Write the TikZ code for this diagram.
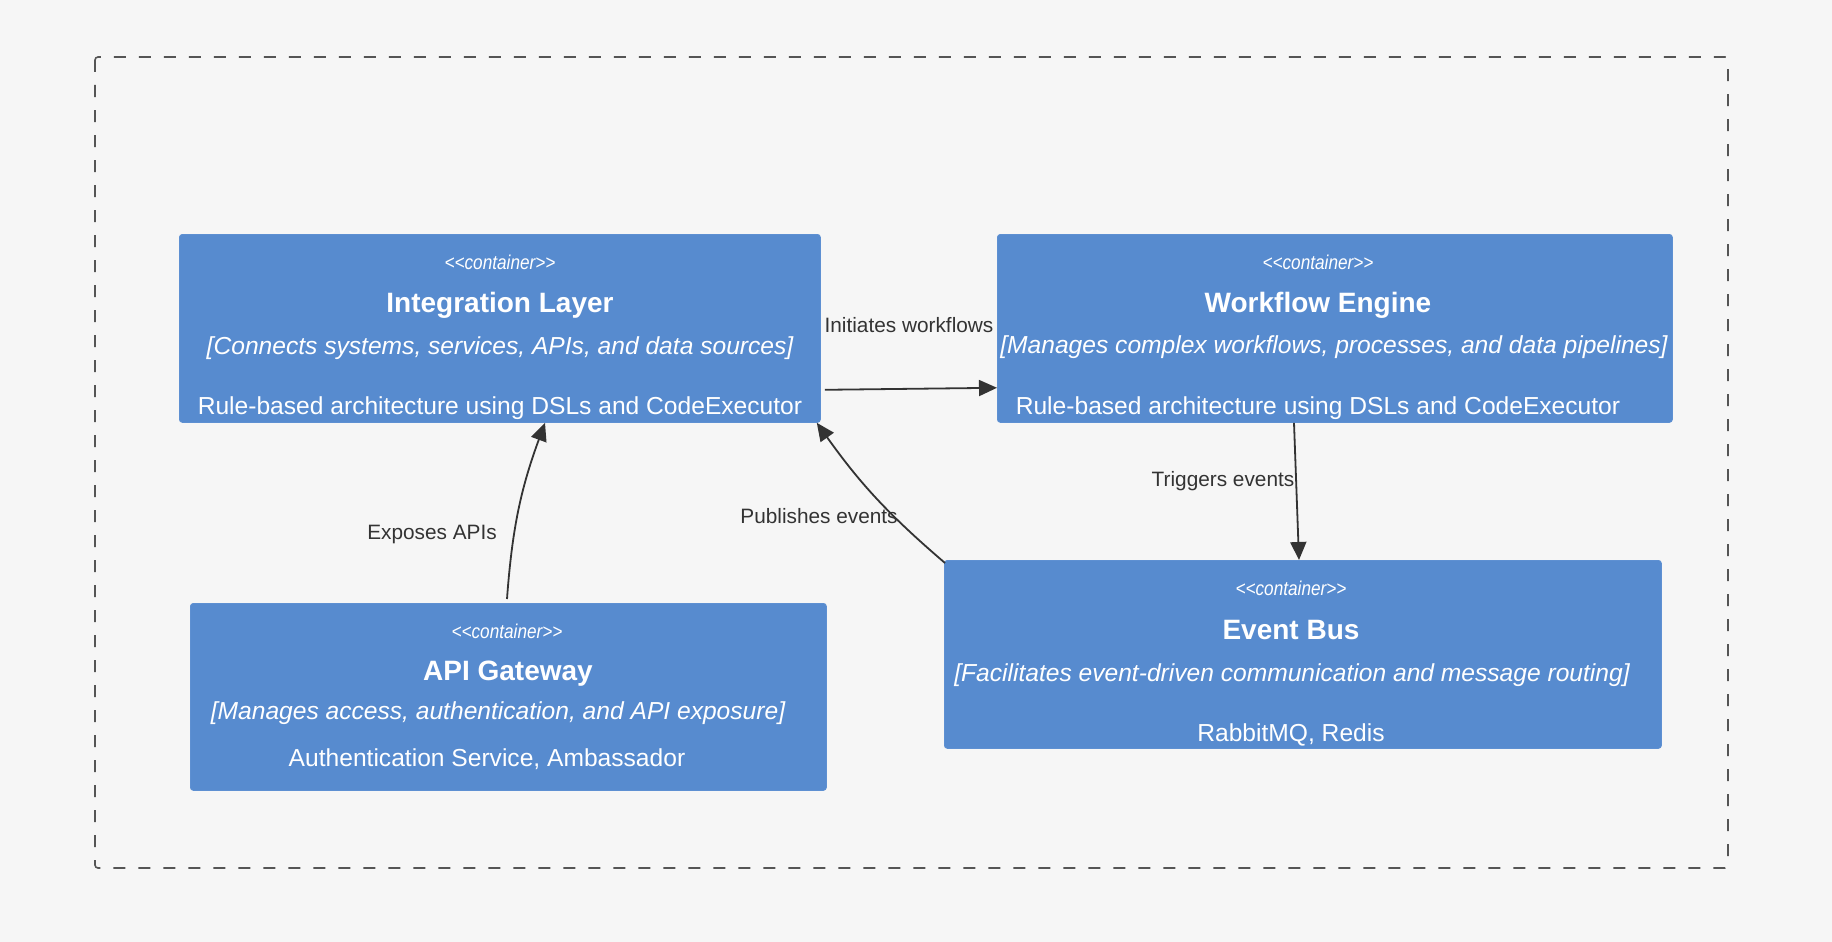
\documentclass[tikz,border=0pt]{standalone}
\usepackage{fontspec}
\setmainfont{Liberation Sans}
\usetikzlibrary{arrows.meta}
\definecolor{bg}{HTML}{F6F6F6}
\definecolor{boxblue}{HTML}{578BCF}
\definecolor{boxedge}{HTML}{5E90D2}
\definecolor{ink}{HTML}{333333}
\definecolor{framecol}{HTML}{555555}
\begin{document}
\begin{tikzpicture}[x=1pt,y=-1pt,
  container/.style={rectangle, rounded corners=3pt, fill=boxblue, draw=boxedge, line width=0.8pt, anchor=north west, inner sep=0pt},
  stereo/.style={text=white, font=\fontsize{20}{20}\selectfont\itshape, inner sep=0pt, text height=0.52em, text depth=0pt, yshift=-4pt},
  ctitle/.style={text=white, font=\fontsize{28}{28}\selectfont\bfseries, inner sep=0pt, text height=0.716em, text depth=0pt, yshift=-4.5pt},
  cdesc/.style={text=white, font=\fontsize{24.6}{24.6}\selectfont\itshape, inner sep=0pt, text height=0.716em, text depth=0pt, yshift=-4.5pt},
  ctech/.style={text=white, font=\fontsize{24.6}{24.6}\selectfont, inner sep=0pt, text height=0.716em, text depth=0pt, yshift=-4.5pt},
  rel/.style={draw=ink, line width=1.8pt, -{Triangle[length=18pt,width=16pt]}},
  rellabel/.style={text=ink, font=\fontsize{20.8}{20.8}\selectfont, inner sep=0pt, text height=0.716em, text depth=0pt, yshift=-4.5pt}
]
\useasboundingbox (0,0) rectangle (1832,942);
\fill[bg] (0,0) rectangle (1832,942);
\draw[framecol, line width=1.6pt, dash pattern=on 12pt off 13pt, rounded corners=3pt] (95,57) rectangle (1728,868);

% boxes
\node[container, minimum width=641pt, minimum height=188pt] (il) at (179,234) {};
\node[container, minimum width=675pt, minimum height=188pt] (we) at (997,234) {};
\node[container, minimum width=636pt, minimum height=187pt] (ag) at (190,603) {};
\node[container, minimum width=717pt, minimum height=188pt] (eb) at (944,560) {};

% Integration Layer texts
\node[stereo] (ils) at (500,263) {\scalebox{0.86}[1]{{<}{<}container{>}{>}}};
\node[ctitle] (ilt) at (500,304) {Integration Layer};
\node[cdesc] (ild) at (500,346) {[Connects systems, services, APIs, and data sources]};
\node[ctech] (ilx) at (500,406) {Rule-based architecture using DSLs and CodeExecutor};

% Workflow Engine texts
\node[stereo] (wes) at (1318,263) {\scalebox{0.86}[1]{{<}{<}container{>}{>}}};
\node[ctitle] (wet) at (1318,304) {Workflow Engine};
\node[cdesc] (wed) at (1334,345) {[Manages complex workflows, processes, and data pipelines]};
\node[ctech] (wex) at (1318,406) {Rule-based architecture using DSLs and CodeExecutor};

% API Gateway texts
\node[stereo] (ags) at (507,632) {\scalebox{0.86}[1]{{<}{<}container{>}{>}}};
\node[ctitle] (agt) at (508,672) {API Gateway};
\node[cdesc] (agd) at (498,711) {[Manages access, authentication, and API exposure]};
\node[ctech] (agx) at (487,758) {Authentication Service, Ambassador};

% Event Bus texts
\node[stereo] (ebs) at (1291,589) {\scalebox{0.86}[1]{{<}{<}container{>}{>}}};
\node[ctitle] (ebt) at (1291,631) {Event Bus};
\node[cdesc] (ebd) at (1292,673) {[Facilitates event-driven communication and message routing]};
\node[ctech] (ebx) at (1291,733) {RabbitMQ, Redis};

% relations
\draw[rel] ([xshift=4pt,yshift=33pt]il.south east) -- ([yshift=35pt]we.south west);
\draw[rel] ([xshift=297pt]we.south west) -- ([xshift=355pt]eb.north west);
\draw[rel] ([xshift=1pt,yshift=-3pt]eb.north west) to[bend left=7] ([xshift=-4pt]il.south east);
\draw[rel] ([xshift=317pt,yshift=4pt]ag.north west) to[bend left=8] ([xshift=366pt]il.south west);

% relation labels
\node[rellabel] (l1) at (909,324) {Initiates workflows};
\node[rellabel] (l2) at (1223,478) {Triggers events};
\node[rellabel] (l3) at (819,515) {Publishes events};
\node[rellabel] (l4) at (432,531) {Exposes APIs};
\end{tikzpicture}
\end{document}
